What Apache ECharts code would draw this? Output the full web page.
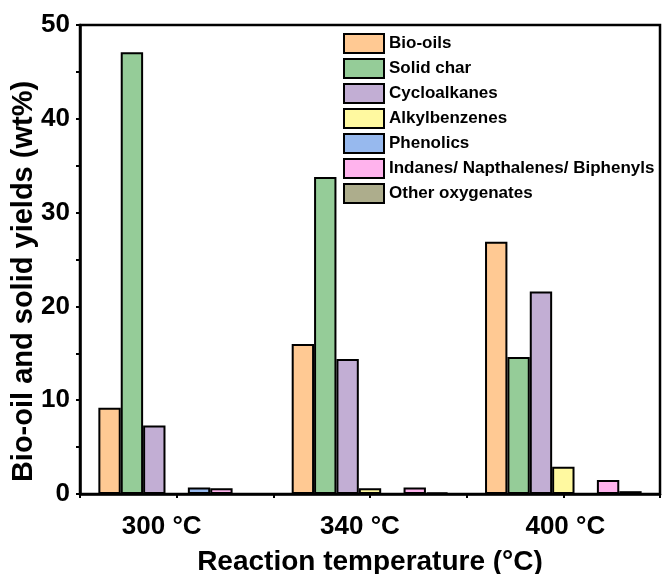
<!DOCTYPE html>
<html>
<head>
<meta charset="utf-8">
<script src="https://cdn.jsdelivr.net/npm/echarts@6/dist/echarts.min.js"></script>
<style>
html,body{margin:0;padding:0;background:#fff;}
#chart{width:663px;height:574px;}
</style>
</head>
<body>
<div id="chart"></div>
<script>
var categories = ['300 °C', '340 °C', '400 °C'];
var seriesNames = ['Bio-oils', 'Solid char', 'Cycloalkanes', 'Alkylbenzenes', 'Phenolics', 'Indanes/ Napthalenes/ Biphenyls', 'Other oxygenates'];
var bioOils = [9.2, 16.0, 26.9];
var solidChar = [47.1, 33.8, 14.6];
var cycloalkanes = [7.3, 14.4, 21.6];
var alkylbenzenes = [0, 0.6, 2.9];
var phenolics = [0.7, 0, 0];
var indanes = [0.6, 0.7, 1.5];
var otherOxygenates = [0, 0.15, 0.3];
var colors = ['#FFC993', '#95CC98', '#C2AED4', '#FFF9A0', '#97B9EE', '#FFB3ED', '#ADAD8C'];
var yTicks = [0, 10, 20, 30, 40, 50];

var allData = [bioOils, solidChar, cycloalkanes, alkylbenzenes, phenolics, indanes, otherOxygenates];
var FONT = '"Liberation Sans", Arial, sans-serif';
var labelStyle = { fontFamily: FONT, fontSize: 26, fontWeight: 'bold', color: '#000' };

var chart = echarts.init(document.getElementById('chart'));
var series = seriesNames.map(function (n, i) {
  return {
    name: n,
    type: 'bar',
    xAxisIndex: 0,
    data: allData[i],
    barGap: '0%',
    barCategoryGap: '19%',
    itemStyle: { color: colors[i], borderColor: '#000', borderWidth: 2 }
  };
});

chart.setOption({
  animation: false,
  backgroundColor: '#fff',
  grid: { left: 80, right: 3, top: 25, bottom: 80, show: true, borderColor: '#000', borderWidth: 2.5,
    containLabel: false, outerBoundsMode: 'none' },
  legend: {
    orient: 'vertical',
    left: 343,
    top: 33,
    padding: 0,
    itemWidth: 40,
    itemHeight: 19,
    itemGap: 4,
    icon: 'rect',
    data: seriesNames,
    textStyle: { fontFamily: FONT, fontSize: 17, fontWeight: 'bold', color: '#000' },
    itemStyle: { borderColor: '#000', borderWidth: 2 }
  },
  xAxis: [{
    type: 'category',
    data: categories,
    position: 'bottom',
    name: 'Reaction temperature (°C)',
    nameLocation: 'middle',
    nameMoveOverlap: false,
    nameGap: 54,
    nameTextStyle: { fontFamily: FONT, fontSize: 28, fontWeight: 'bold', color: '#000' },
    axisLine: { show: true, lineStyle: { color: '#000', width: 2.5 } },
    axisTick: { show: false },
    axisLabel: {
      margin: 20,
      fontFamily: FONT, fontSize: 26, fontWeight: 'bold', color: '#000',
      formatter: function (v, i) { return '{l' + i + '|' + v + '}'; },
      rich: {
        l0: Object.assign({ padding: [0, 30, 0, 0] }, labelStyle),
        l1: Object.assign({ padding: [0, 20, 0, 0] }, labelStyle),
        l2: Object.assign({ padding: [0, 0, 0, 4] }, labelStyle)
      }
    },
    splitLine: { show: false }
  }, {
    type: 'value',
    min: 0, max: 6, interval: 1,
    position: 'bottom',
    axisLine: { show: false },
    axisTick: { show: true, length: 4, lineStyle: { color: '#000', width: 2 } },
    axisLabel: { show: false },
    splitLine: { show: false }
  }],
  yAxis: {
    type: 'value',
    min: 0, max: 50, interval: 10,
    name: 'Bio-oil and solid yields (wt%)',
    nameLocation: 'middle',
    nameMoveOverlap: false,
    nameGap: 42,
    nameTextStyle: { fontFamily: FONT, fontSize: 29, fontWeight: 'bold', color: '#000', padding: [0, 44, 0, 0] },
    axisLine: { show: true, lineStyle: { color: '#000', width: 2.5 } },
    axisTick: { show: true, length: 4, lineStyle: { color: '#000', width: 2 } },
    minorTick: { show: true, splitNumber: 2, length: 4, lineStyle: { color: '#000', width: 2 } },
    axisLabel: { margin: 10, fontFamily: FONT, fontSize: 26, fontWeight: 'bold', color: '#000',
      formatter: function (v) { return yTicks.indexOf(v) >= 0 ? String(v) : ''; } },
    splitLine: { show: false }
  },
  series: series
});
</script>
</body>
</html>
